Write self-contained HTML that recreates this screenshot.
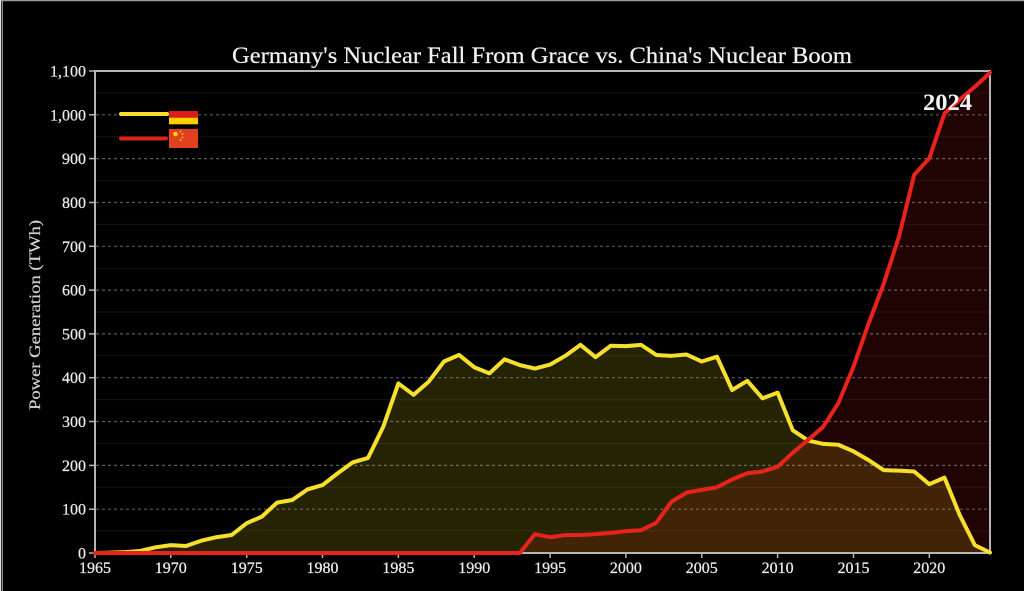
<!DOCTYPE html>
<html>
<head>
<meta charset="utf-8">
<style>
  html, body { margin:0; padding:0; background:#000; }
  body { width:1024px; height:591px; overflow:hidden; position:relative; }
  svg { position:absolute; left:0; top:0; }
</style>
</head>
<body>
<svg width="1024" height="591" viewBox="0 0 1024 591" xmlns="http://www.w3.org/2000/svg">
  <rect x="0" y="0" width="1024" height="591" fill="#000"/>
  <!-- outer frame hints -->
  <line x1="0" y1="0.5" x2="1024" y2="0.5" stroke="#9a9a9a" stroke-width="1.5"/>
  <line x1="0.5" y1="0" x2="0.5" y2="591" stroke="#e0e0e0" stroke-width="1.5"/>
  <line x1="2.5" y1="0" x2="2.5" y2="591" stroke="#8a8a8a" stroke-width="1"/>

  <!-- Title -->
  <text x="232" y="63" font-family="'Liberation Serif', serif" font-size="23" fill="#f2f2f2" stroke="#f2f2f2" stroke-width="0.2" textLength="620" lengthAdjust="spacingAndGlyphs">Germany's Nuclear Fall From Grace vs. China's Nuclear Boom</text>

  <!-- Data fills (data coordinates) -->
  <g transform="translate(95,553) scale(15.1695,-0.43818)">
    <polygon fill="rgba(230,20,20,0.14)" points="0,0 28,0 29,43 30,36 31,41 32,41 33,43 34,46 35,50 36,52 37,69 38,117 39,138 40,144 41,150 42,168 43,182 44,186 45,197 46,229 47,258 48,288 49,342 50,425 51,524 52,615 53,722 54,863 55,901 56,1003 57,1035 58,1064 59,1096 59,0"/>
    <polygon fill="rgba(255,225,30,0.15)" points="0,0 1,1 2,2 3,5 4,13 5,18 6,16 7,28 8,36 9,41 10,68 11,83 12,115 13,121 14,145 15,155 16,182 17,207 18,217 19,288 20,387 21,361 22,391 23,437 24,452 25,424 26,410 27,442 28,429 29,421 30,430 31,450 32,475 33,447 34,473 35,472 36,475 37,452 38,450 39,453 40,437 41,448 42,372 43,393 44,353 45,366 46,280 47,257 48,249 49,247 50,232 51,212 52,189 53,188 54,186 55,157 56,172 57,87 58,18 59,1 59,0"/>
  </g>

  <!-- Minor gridlines -->
  <g stroke="rgba(255,255,255,0.07)" stroke-width="1">
    <line x1="96" x2="989" y1="530.9" y2="530.9"/>
    <line x1="96" x2="989" y1="487.3" y2="487.3"/>
    <line x1="96" x2="989" y1="443.5" y2="443.5"/>
    <line x1="96" x2="989" y1="399.6" y2="399.6"/>
    <line x1="96" x2="989" y1="355.8" y2="355.8"/>
    <line x1="96" x2="989" y1="312" y2="312"/>
    <line x1="96" x2="989" y1="268.2" y2="268.2"/>
    <line x1="96" x2="989" y1="224.4" y2="224.4"/>
    <line x1="96" x2="989" y1="180.6" y2="180.6"/>
    <line x1="96" x2="989" y1="136.7" y2="136.7"/>
    <line x1="96" x2="989" y1="92.9" y2="92.9"/>
  </g>
  <!-- Major dashed gridlines -->
  <g stroke="rgba(200,200,200,0.45)" stroke-width="1.2" stroke-dasharray="3,3">
    <line x1="96" x2="989" y1="509.2" y2="509.2"/>
    <line x1="96" x2="989" y1="465.4" y2="465.4"/>
    <line x1="96" x2="989" y1="421.5" y2="421.5"/>
    <line x1="96" x2="989" y1="377.7" y2="377.7"/>
    <line x1="96" x2="989" y1="333.9" y2="333.9"/>
    <line x1="96" x2="989" y1="290.1" y2="290.1"/>
    <line x1="96" x2="989" y1="246.3" y2="246.3"/>
    <line x1="96" x2="989" y1="202.5" y2="202.5"/>
    <line x1="96" x2="989" y1="158.6" y2="158.6"/>
    <line x1="96" x2="989" y1="114.8" y2="114.8"/>
  </g>

  <!-- Axes frame -->
  <g stroke="#b5b5b5" stroke-width="2" fill="none">
    <line x1="95" y1="70" x2="95" y2="554"/>
    <line x1="94" y1="71" x2="991" y2="71"/>
    <line x1="990" y1="70" x2="990" y2="554"/>
    <line x1="94" y1="553" x2="991" y2="553"/>
  </g>
  <!-- Y ticks -->
  <g stroke="#b5b5b5" stroke-width="1.5">
    <line x1="89" x2="95" y1="553" y2="553"/>
    <line x1="89" x2="95" y1="509.2" y2="509.2"/>
    <line x1="89" x2="95" y1="465.4" y2="465.4"/>
    <line x1="89" x2="95" y1="421.5" y2="421.5"/>
    <line x1="89" x2="95" y1="377.7" y2="377.7"/>
    <line x1="89" x2="95" y1="333.9" y2="333.9"/>
    <line x1="89" x2="95" y1="290.1" y2="290.1"/>
    <line x1="89" x2="95" y1="246.3" y2="246.3"/>
    <line x1="89" x2="95" y1="202.5" y2="202.5"/>
    <line x1="89" x2="95" y1="158.6" y2="158.6"/>
    <line x1="89" x2="95" y1="114.8" y2="114.8"/>
    <line x1="89" x2="95" y1="71" y2="71"/>
  </g>
  <!-- X ticks -->
  <g stroke="#b5b5b5" stroke-width="1.5">
    <line y1="553" y2="558" x1="95" x2="95"/>
    <line y1="553" y2="558" x1="170.8" x2="170.8"/>
    <line y1="553" y2="558" x1="246.7" x2="246.7"/>
    <line y1="553" y2="558" x1="322.5" x2="322.5"/>
    <line y1="553" y2="558" x1="398.4" x2="398.4"/>
    <line y1="553" y2="558" x1="474.2" x2="474.2"/>
    <line y1="553" y2="558" x1="550.1" x2="550.1"/>
    <line y1="553" y2="558" x1="625.9" x2="625.9"/>
    <line y1="553" y2="558" x1="701.8" x2="701.8"/>
    <line y1="553" y2="558" x1="777.6" x2="777.6"/>
    <line y1="553" y2="558" x1="853.5" x2="853.5"/>
    <line y1="553" y2="558" x1="929.3" x2="929.3"/>
  </g>

  <!-- Data lines -->
  <g transform="translate(95,553) scale(15.1695,-0.43818)" fill="none" stroke-linejoin="round" stroke-linecap="round">
    <polyline vector-effect="non-scaling-stroke" stroke="#f7e02c" stroke-width="4" points="0,0 1,1 2,2 3,5 4,13 5,18 6,16 7,28 8,36 9,41 10,68 11,83 12,115 13,121 14,145 15,155 16,182 17,207 18,217 19,288 20,387 21,361 22,391 23,437 24,452 25,424 26,410 27,442 28,429 29,421 30,430 31,450 32,475 33,447 34,473 35,472 36,475 37,452 38,450 39,453 40,437 41,448 42,372 43,393 44,353 45,366 46,280 47,257 48,249 49,247 50,232 51,212 52,189 53,188 54,186 55,157 56,172 57,87 58,18 59,1"/>
    <polyline vector-effect="non-scaling-stroke" stroke="#e8231c" stroke-width="4" points="0,0 28,0 29,43 30,36 31,41 32,41 33,43 34,46 35,50 36,52 37,69 38,117 39,138 40,144 41,150 42,168 43,182 44,186 45,197 46,229 47,258 48,288 49,342 50,425 51,524 52,615 53,722 54,863 55,901 56,1003 57,1035 58,1064 59,1096"/>
  </g>

  <!-- Y labels -->
  <g font-family="'Liberation Serif', serif" font-size="16" fill="#ececec" stroke="#ececec" stroke-width="0.25" text-anchor="end">
    <text x="86" y="558.5">0</text>
    <text x="86" y="514.7">100</text>
    <text x="86" y="470.9">200</text>
    <text x="86" y="427">300</text>
    <text x="86" y="383.2">400</text>
    <text x="86" y="339.4">500</text>
    <text x="86" y="295.6">600</text>
    <text x="86" y="251.8">700</text>
    <text x="86" y="208">800</text>
    <text x="86" y="164.1">900</text>
    <text x="86" y="120.3">1,000</text>
    <text x="86" y="76.5">1,100</text>
  </g>
  <!-- X labels -->
  <g font-family="'Liberation Serif', serif" font-size="16" fill="#ececec" stroke="#ececec" stroke-width="0.25" text-anchor="middle">
    <text x="95" y="573">1965</text>
    <text x="170.8" y="573">1970</text>
    <text x="246.7" y="573">1975</text>
    <text x="322.5" y="573">1980</text>
    <text x="398.4" y="573">1985</text>
    <text x="474.2" y="573">1990</text>
    <text x="550.1" y="573">1995</text>
    <text x="625.9" y="573">2000</text>
    <text x="701.8" y="573">2005</text>
    <text x="777.6" y="573">2010</text>
    <text x="853.5" y="573">2015</text>
    <text x="929.3" y="573">2020</text>
  </g>

  <!-- Y axis title -->
  <text transform="translate(40,315) rotate(-90)" text-anchor="middle" font-family="'Liberation Serif', serif" font-size="16" fill="#d0d0d0" stroke="#d0d0d0" stroke-width="0.2" textLength="190" lengthAdjust="spacingAndGlyphs">Power Generation (TWh)</text>

  <!-- 2024 annotation -->
  <text x="923" y="110" font-family="'Liberation Serif', serif" font-size="23" font-weight="bold" fill="#f4f4f4" textLength="49" lengthAdjust="spacingAndGlyphs">2024</text>

  <!-- Legend -->
  <line x1="121" y1="114" x2="167" y2="114" stroke="#f7e02c" stroke-width="4" stroke-linecap="round"/>
  <rect x="169" y="105" width="29" height="6" fill="#000"/>
  <rect x="169" y="111" width="29" height="6.7" fill="#dd1c1a"/>
  <rect x="169" y="117.7" width="29" height="6.6" fill="#ffce00"/>

  <line x1="121" y1="138.5" x2="166" y2="138.5" stroke="#d9231c" stroke-width="4" stroke-linecap="round"/>
  <rect x="169" y="129" width="29" height="19" fill="#e0401f"/>
  <g fill="#ffd21c">
    <circle cx="175.5" cy="134" r="2.3"/>
    <circle cx="180.5" cy="131.5" r="0.9"/>
    <circle cx="182.5" cy="134" r="0.9"/>
    <circle cx="182.5" cy="137.5" r="0.9"/>
    <circle cx="180.5" cy="140" r="0.9"/>
  </g>
</svg>
</body>
</html>
